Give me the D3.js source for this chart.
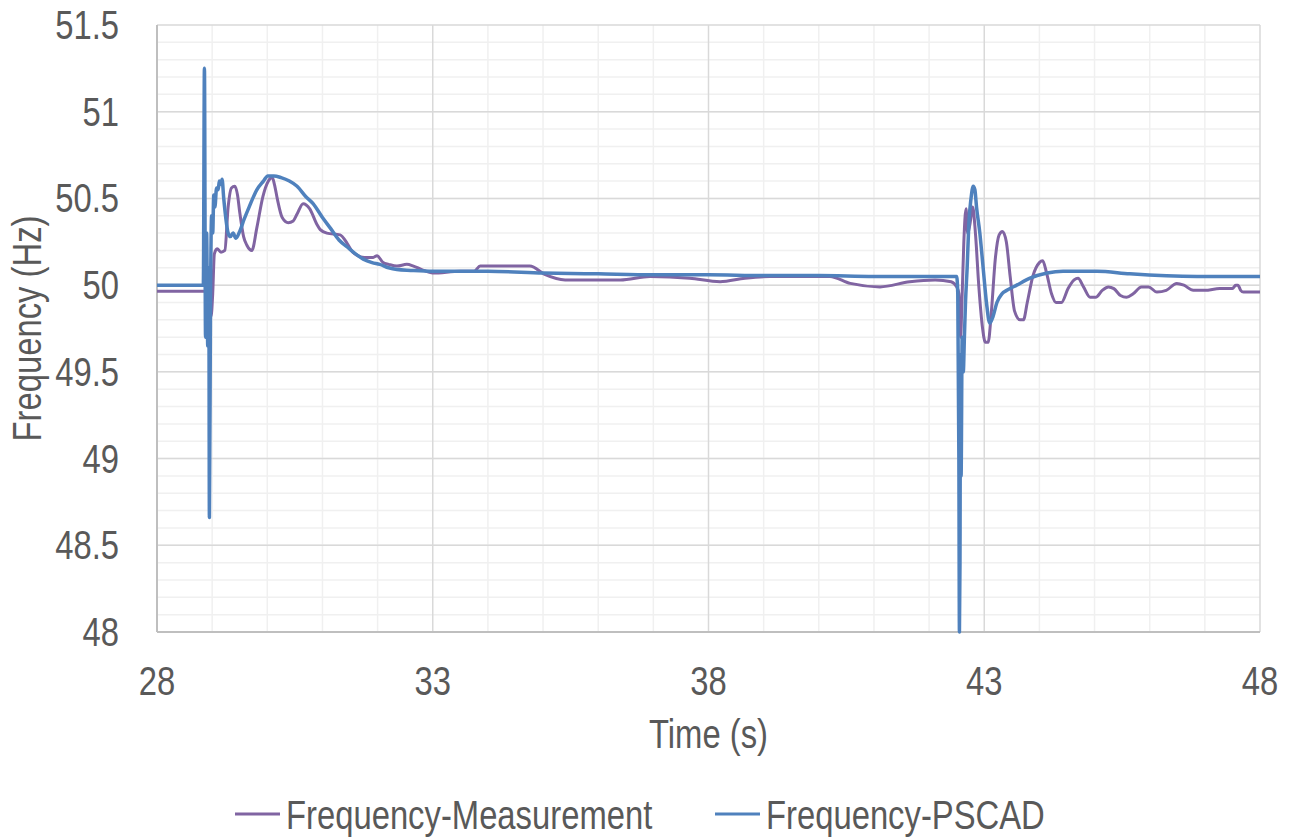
<!DOCTYPE html>
<html>
<head>
<meta charset="utf-8">
<script src="https://cdn.jsdelivr.net/npm/d3@7"></script>
<style>
  html, body { margin: 0; padding: 0; background: #fff; }
  svg text { font-family: "Liberation Sans", Arial, sans-serif; fill: #595959; font-size: 40px; }
</style>
</head>
<body>
<svg id="chart" width="1290" height="840"></svg>
<script>
// Frequency-Measurement (time in s, frequency in Hz)
const measTime = [28.00, 28.88, 28.93, 28.98, 29.01, 29.04, 29.09, 29.16, 29.23, 29.29, 29.35, 29.41, 29.46, 29.50, 29.57,
  29.63, 29.72, 29.81, 29.92, 30.02, 30.09, 30.13, 30.18, 30.27, 30.38, 30.47, 30.54, 30.65, 30.77, 30.90, 30.96, 31.08,
  31.32, 31.45, 31.55, 31.76, 31.92, 31.99, 32.10, 32.20, 32.35, 32.53, 32.65, 32.80, 33.00, 33.50, 33.75, 33.86, 34.76,
  35.04, 35.40, 36.40, 36.94, 37.66, 38.21, 38.66, 39.11, 40.20, 40.57, 41.11, 41.65, 42.11, 42.40, 42.50, 42.54, 42.57,
  42.60, 42.63, 42.67, 42.70, 42.74, 42.79, 42.84, 42.90, 42.97, 43.02, 43.07, 43.13, 43.20, 43.27, 43.33, 43.40, 43.47,
  43.55, 43.65, 43.71, 43.78, 43.88, 44.00, 44.06, 44.13, 44.22, 44.30, 44.40, 44.52, 44.63, 44.70, 44.80, 44.92, 45.02,
  45.14, 45.25, 45.35, 45.47, 45.58, 45.70, 45.85, 45.98, 46.13, 46.30, 46.49, 46.62, 46.79, 47.00, 47.27, 47.50, 47.56,
  47.60, 47.65, 47.70, 48.00];
const measFreq = [49.965, 49.965, 49.93, 49.82, 49.95, 50.18, 50.21, 50.19, 50.20, 50.45, 50.56, 50.57, 50.52, 50.42, 50.28,
  50.23, 50.20, 50.33, 50.51, 50.60, 50.62, 50.58, 50.50, 50.39, 50.36, 50.37, 50.41, 50.47, 50.44, 50.35, 50.32, 50.30,
  50.29, 50.24, 50.19, 50.16, 50.16, 50.17, 50.13, 50.12, 50.11, 50.12, 50.11, 50.09, 50.07, 50.08, 50.08, 50.11, 50.11,
  50.06, 50.03, 50.03, 50.05, 50.04, 50.02, 50.04, 50.05, 50.05, 50.01, 49.99, 50.02, 50.03, 50.02, 49.99, 49.95, 49.70,
  49.95, 50.25, 50.44, 50.30, 50.35, 50.45, 50.30, 50.00, 49.75, 49.67, 49.67, 49.85, 50.15, 50.29, 50.31, 50.25, 50.05,
  49.85, 49.80, 49.80, 49.90, 50.05, 50.13, 50.14, 50.07, 49.95, 49.90, 49.90, 49.98, 50.03, 50.04, 49.99, 49.93, 49.93,
  49.97, 49.99, 49.98, 49.94, 49.93, 49.95, 49.99, 49.99, 49.96, 49.97, 50.01, 50.00, 49.97, 49.97, 49.98, 49.98, 50.00,
  50.00, 49.97, 49.96, 49.96];

// Frequency-PSCAD (time in s, frequency in Hz)
const pscadTime = [28.00, 28.84, 28.86, 28.88, 28.90, 28.92, 28.94, 28.95, 28.97, 28.99, 29.01, 29.03, 29.05, 29.08, 29.11,
  29.13, 29.16, 29.18, 29.21, 29.25, 29.29, 29.33, 29.38, 29.43, 29.50, 29.58, 29.67, 29.81, 29.93, 30.01, 30.12, 30.25,
  30.40, 30.54, 30.70, 30.83, 31.00, 31.14, 31.30, 31.45, 31.60, 31.74, 31.90, 32.04, 32.20, 32.35, 32.60, 33.00, 34.00,
  35.00, 36.00, 37.00, 38.00, 39.00, 40.00, 41.00, 42.00, 42.50, 42.52, 42.54, 42.55, 42.56, 42.57, 42.58, 42.60, 42.62,
  42.64, 42.66, 42.69, 42.72, 42.76, 42.80, 42.83, 42.86, 42.92, 42.98, 43.04, 43.10, 43.16, 43.23, 43.32, 43.41, 43.59,
  43.83, 44.14, 44.43, 45.04, 45.64, 46.86, 48.00];
const pscadFreq = [50.00, 50.00, 51.25, 49.70, 50.30, 49.65, 50.10, 48.66, 49.90, 50.40, 50.30, 50.52, 50.45, 50.56, 50.55,
  50.60, 50.58, 50.61, 50.50, 50.38, 50.30, 50.28, 50.30, 50.27, 50.31, 50.38, 50.45, 50.55, 50.60, 50.63, 50.63, 50.62,
  50.60, 50.57, 50.51, 50.47, 50.39, 50.33, 50.26, 50.22, 50.18, 50.15, 50.13, 50.12, 50.10, 50.09, 50.085, 50.08, 50.08,
  50.07, 50.065, 50.06, 50.06, 50.055, 50.055, 50.05, 50.05, 50.05, 49.95, 49.00, 48.00, 48.40, 49.60, 48.90, 49.70, 49.50,
  49.70, 49.90, 50.10, 50.35, 50.50, 50.57, 50.55, 50.45, 50.30, 50.10, 49.90, 49.78, 49.82, 49.90, 49.95, 49.97, 50.00,
  50.04, 50.07, 50.08, 50.08, 50.065, 50.05, 50.05];

const xTicks = [28, 33, 38, 43, 48];
const yTicks = [48, 48.5, 49, 49.5, 50, 50.5, 51, 51.5];
const seriesNames = ['Frequency-Measurement', 'Frequency-PSCAD'];
const seriesColors = ['#8064a2', '#4f81bd'];

const margin = { top: 25, right: 30, bottom: 208, left: 157 };
const width = 1290;
const height = 840;
const squeeze = 0.82; // text in the original is horizontally narrow

const svg = d3.select('#chart');

const x = d3.scaleLinear()
  .domain([28, 48])
  .range([margin.left, width - margin.right]);

const y = d3.scaleLinear()
  .domain([48, 51.5])
  .range([height - margin.bottom, margin.top]);

// narrow text helper
const addText = (g, tx, ty, str, anchor, rot) => g.append('text')
  .attr('transform', `translate(${tx},${ty})${rot ? ` rotate(${rot})` : ''} scale(${squeeze},1)`)
  .attr('text-anchor', anchor)
  .text(str);

// minor grid
svg.append('g')
  .selectAll('line')
  .data(d3.range(481, 515).map(v => v / 10))
  .join('line')
  .attr('x1', x(28)).attr('x2', x(48))
  .attr('y1', d => y(d)).attr('y2', d => y(d))
  .attr('stroke', '#f0f0f0').attr('stroke-width', 1.5);

svg.append('g')
  .selectAll('line')
  .data(d3.range(29, 48).filter(v => v % 5 !== 3))
  .join('line')
  .attr('x1', d => x(d)).attr('x2', d => x(d))
  .attr('y1', y(48)).attr('y2', y(51.5))
  .attr('stroke', '#f0f0f0').attr('stroke-width', 1.5);

// major grid
svg.append('g')
  .selectAll('line')
  .data(yTicks.slice(1))
  .join('line')
  .attr('x1', x(28)).attr('x2', x(48))
  .attr('y1', d => y(d)).attr('y2', d => y(d))
  .attr('stroke', '#d9d9d9').attr('stroke-width', 1.5);

svg.append('g')
  .selectAll('line')
  .data(xTicks.slice(1))
  .join('line')
  .attr('x1', d => x(d)).attr('x2', d => x(d))
  .attr('y1', y(48)).attr('y2', y(51.5))
  .attr('stroke', '#d9d9d9').attr('stroke-width', 1.5);

// axis lines
svg.append('line')
  .attr('x1', x(28)).attr('x2', x(28))
  .attr('y1', y(48)).attr('y2', y(51.5))
  .attr('stroke', '#bfbfbf').attr('stroke-width', 2);
svg.append('line')
  .attr('x1', x(28)).attr('x2', x(48))
  .attr('y1', y(48)).attr('y2', y(48))
  .attr('stroke', '#bfbfbf').attr('stroke-width', 2);

// tick labels
const yLab = svg.append('g');
yTicks.forEach(d => addText(yLab, 119, y(d) + 14, d, 'end'));

const xLab = svg.append('g');
xTicks.forEach(d => addText(xLab, x(d), 695, d, 'middle'));

// axis titles
addText(svg, (x(28) + x(48)) / 2, 748, 'Time (s)', 'middle');
addText(svg, 41, (y(48) + y(51.5)) / 2, 'Frequency (Hz)', 'middle', -90);

// series
const line = d3.line()
  .curve(d3.curveMonotoneX)
  .x(d => x(d[0]))
  .y(d => y(d[1]));

const meas = measTime.map((t, i) => [t, measFreq[i]]);
const pscad = pscadTime.map((t, i) => [t, pscadFreq[i]]);

svg.append('path')
  .datum(meas)
  .attr('d', line)
  .attr('fill', 'none')
  .attr('stroke', seriesColors[0])
  .attr('stroke-width', 3)
  .attr('stroke-linejoin', 'round');

svg.append('path')
  .datum(pscad)
  .attr('d', line)
  .attr('fill', 'none')
  .attr('stroke', seriesColors[1])
  .attr('stroke-width', 3.5)
  .attr('stroke-linejoin', 'round');

// legend
const legendX = [235, 715];
seriesNames.forEach((name, i) => {
  svg.append('line')
    .attr('x1', legendX[i]).attr('x2', legendX[i] + 45)
    .attr('y1', 814).attr('y2', 814)
    .attr('stroke', seriesColors[i]).attr('stroke-width', 3);
  addText(svg, legendX[i] + 51, 829, name, 'start');
});
</script>
</body>
</html>
